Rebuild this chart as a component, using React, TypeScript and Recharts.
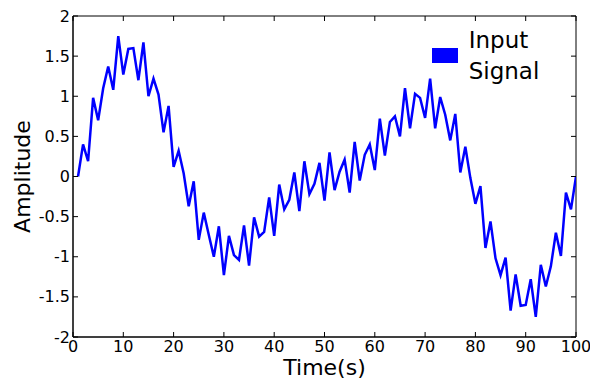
import React from 'react';
import { LineChart, Line, XAxis, YAxis, ReferenceArea, Legend } from 'recharts';

const TIME = [
  1, 2, 3, 4, 5, 6, 7, 8, 9, 10,
  11, 12, 13, 14, 15, 16, 17, 18, 19, 20,
  21, 22, 23, 24, 25, 26, 27, 28, 29, 30,
  31, 32, 33, 34, 35, 36, 37, 38, 39, 40,
  41, 42, 43, 44, 45, 46, 47, 48, 49, 50,
  51, 52, 53, 54, 55, 56, 57, 58, 59, 60,
  61, 62, 63, 64, 65, 66, 67, 68, 69, 70,
  71, 72, 73, 74, 75, 76, 77, 78, 79, 80,
  81, 82, 83, 84, 85, 86, 87, 88, 89, 90,
  91, 92, 93, 94, 95, 96, 97, 98, 99, 100,
];

const AMPLITUDE = [
  0, 0.4, 0.19, 0.98, 0.7, 1.1, 1.37, 1.08, 1.75, 1.27,
  1.59, 1.6, 1.2, 1.67, 1.0, 1.22, 1.02, 0.55, 0.88, 0.12,
  0.32, 0.04, -0.37, -0.06, -0.79, -0.45, -0.73, -1.0, -0.62, -1.23,
  -0.74, -0.98, -1.04, -0.61, -1.11, -0.51, -0.75, -0.69, -0.26, -0.74,
  -0.1, -0.41, -0.29, 0.05, -0.43, 0.19, -0.22, -0.09, 0.17, -0.3,
  0.3, -0.17, 0.06, 0.21, -0.2, 0.43, -0.05, 0.27, 0.4, 0.08,
  0.72, 0.26, 0.68, 0.75, 0.5, 1.1, 0.6, 1.03, 0.98, 0.73,
  1.22, 0.6, 0.99, 0.77, 0.45, 0.78, 0.05, 0.37, -0.02, -0.34,
  -0.12, -0.89, -0.56, -1.02, -1.23, -1.01, -1.67, -1.22, -1.61, -1.6,
  -1.28, -1.75, -1.1, -1.37, -1.12, -0.7, -0.99, -0.2, -0.41, 0,
];

const X_TICKS = [0, 10, 20, 30, 40, 50, 60, 70, 80, 90, 100];
const Y_TICKS = [-2, -1.5, -1, -0.5, 0, 0.5, 1, 1.5, 2];
const X_DOMAIN: [number, number] = [0, 100];
const Y_DOMAIN: [number, number] = [-2, 2];
const SERIES_NAME = 'Input Signal';
const LEGEND_LINES = ['Input', 'Signal'];
const X_LABEL = 'Time(s)';
const Y_LABEL = 'Amplitude';

const W = 590;
const H = 376;
const MARGIN = { top: 8, right: 22, bottom: 0, left: 0 };
const Y_AXIS_W = 65;
const X_AXIS_H = 47;
const PLOT_LEFT = MARGIN.left + Y_AXIS_W;
const PLOT_RIGHT = W - MARGIN.right;
const PLOT_TOP = MARGIN.top;
const PLOT_BOTTOM = H - MARGIN.bottom - X_AXIS_H;
const TICK_LEN = 5;
const FONT = '"DejaVu Sans", sans-serif';
const TICK_FONT_SIZE = 16;
const LABEL_FONT_SIZE = 22;
const BLUE = '#0000ff';

const data = TIME.map((t, i) => ({ t, amp: AMPLITUDE[i] }));

const XTick = (props: any) => {
  const { x, payload } = props;
  return (
    <g>
      <line x1={x} x2={x} y1={PLOT_BOTTOM} y2={PLOT_BOTTOM - TICK_LEN} stroke="#000" strokeWidth={1} />
      <line x1={x} x2={x} y1={PLOT_TOP} y2={PLOT_TOP + TICK_LEN} stroke="#000" strokeWidth={1} />
      <text
        x={x}
        y={PLOT_BOTTOM + 9}
        textAnchor="middle"
        dominantBaseline="central"
        fontFamily={FONT}
        fontSize={TICK_FONT_SIZE}
        fill="#000"
      >
        {payload.value}
      </text>
    </g>
  );
};

const YTick = (props: any) => {
  const { y, payload } = props;
  return (
    <g>
      <line x1={PLOT_LEFT} x2={PLOT_LEFT + TICK_LEN} y1={y} y2={y} stroke="#000" strokeWidth={1} />
      <line x1={PLOT_RIGHT} x2={PLOT_RIGHT - TICK_LEN} y1={y} y2={y} stroke="#000" strokeWidth={1} />
      <text
        x={PLOT_LEFT - 3}
        y={y}
        textAnchor="end"
        dominantBaseline="central"
        fontFamily={FONT}
        fontSize={TICK_FONT_SIZE}
        fill="#000"
      >
        {payload.value}
      </text>
    </g>
  );
};

const XLabel = (props: any) => {
  const vb = props.viewBox || { x: PLOT_LEFT, y: PLOT_BOTTOM, width: PLOT_RIGHT - PLOT_LEFT, height: X_AXIS_H };
  return (
    <text
      x={vb.x + vb.width / 2}
      y={PLOT_BOTTOM + 38}
      textAnchor="middle"
      fontFamily={FONT}
      fontSize={LABEL_FONT_SIZE}
      fill="#000"
    >
      {X_LABEL}
    </text>
  );
};

const YLabel = () => {
  const cx = 14;
  const cy = (PLOT_TOP + PLOT_BOTTOM) / 2;
  return (
    <text
      x={cx}
      y={cy}
      textAnchor="middle"
      dominantBaseline="central"
      transform={`rotate(-90, ${cx}, ${cy})`}
      fontFamily={FONT}
      fontSize={LABEL_FONT_SIZE}
      fill="#000"
    >
      {Y_LABEL}
    </text>
  );
};

const LegendBox = () => (
  <div style={{ position: 'relative', width: 160, height: 70, fontFamily: FONT, fontSize: 23, color: '#000' }}>
    <div style={{ position: 'absolute', left: 0, top: 23, width: 26, height: 15, background: BLUE }} />
    <div style={{ position: 'absolute', left: 37, top: 0, lineHeight: '31px', whiteSpace: 'nowrap' }}>
      {LEGEND_LINES.map((l) => (
        <div key={l}>{l}</div>
      ))}
    </div>
  </div>
);

export default function App() {
  return (
    <LineChart width={W} height={H} data={data} margin={MARGIN}>
      <XAxis
        dataKey="t"
        type="number"
        domain={X_DOMAIN}
        ticks={X_TICKS}
        interval={0}
        tick={<XTick />}
        tickLine={false}
        tickSize={0}
        axisLine={{ stroke: '#000', strokeWidth: 1 }}
        height={X_AXIS_H}
        allowDataOverflow
        label={<XLabel />}
      />
      <YAxis
        type="number"
        domain={Y_DOMAIN}
        ticks={Y_TICKS}
        interval={0}
        tick={<YTick />}
        tickLine={false}
        tickSize={0}
        axisLine={{ stroke: '#000', strokeWidth: 1 }}
        width={Y_AXIS_W}
        allowDataOverflow
        label={<YLabel />}
      />
      <ReferenceArea
        x1={X_DOMAIN[0]}
        x2={X_DOMAIN[1]}
        y1={Y_DOMAIN[0]}
        y2={Y_DOMAIN[1]}
        fill="none"
        fillOpacity={0}
        stroke="#000"
        strokeWidth={1}
      />
      <Legend
        layout="vertical"
        align="center"
        verticalAlign="middle"
        wrapperStyle={{ left: 423.7, top: 16.6, width: 160, height: 70 }}
        content={() => <LegendBox />}
      />
      <Line
        type="linear"
        dataKey="amp"
        name={SERIES_NAME}
        stroke={BLUE}
        strokeWidth={2.5}
        dot={false}
        activeDot={false}
        isAnimationActive={false}
      />
    </LineChart>
  );
}
